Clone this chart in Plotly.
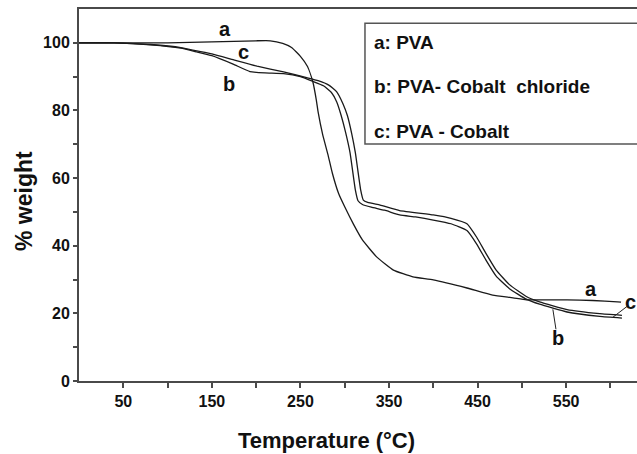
import plotly.graph_objects as go

# ---- data ----
temp_a = [0, 50, 100, 150, 200, 216, 230, 240, 250, 258, 264, 268, 270, 275, 281, 286, 293, 300,
          310, 320, 336, 355, 377, 400, 438, 467, 490, 505, 530, 551, 580, 608, 612]
wt_a = [100, 100, 100, 100.3, 100.6, 100.6, 99.8, 98.6, 96, 93, 88.5, 83, 79.5, 73, 67, 61.5, 55.5, 51.5,
        46.3, 41.7, 36.7, 32.8, 30.8, 29.9, 27.5, 25.4, 24.6, 24, 24, 24, 23.8, 23.4, 23.3]

temp_b = [0, 40, 81, 115, 133, 150, 174, 193, 210, 231, 250, 264, 276, 285, 291, 296, 301, 306,
          312, 315, 320, 330, 345, 362, 380, 400, 420, 438, 449, 460, 471, 486, 505, 520, 551, 588, 613]
wt_b = [100, 100, 99.4, 98.4, 97.3, 96.2, 93.7, 91.5, 91.1, 90.9, 90, 88.6, 87.3, 85.3, 82.5, 78.5, 73.5, 67.5,
        56.5, 53.3, 52.2, 51.4, 50.5, 49.1, 48.5, 47.6, 46.5, 44.5, 40.5, 35.5, 31, 27.3, 24.2, 22.7, 20.4, 19.1, 18.6]

temp_c = [0, 40, 81, 115, 133, 150, 174, 201, 231, 257, 270, 282, 291, 298, 303, 308, 312, 318,
          321, 326, 340, 362, 400, 420, 438, 449, 460, 471, 486, 505, 520, 551, 588, 613]
wt_c = [100, 100, 99.5, 98.6, 97.6, 96.7, 95, 93.1, 91.4, 89.7, 88.8, 87.5, 85.5, 82, 78.5, 73, 67.5, 56.5,
        53.5, 52.8, 52, 50.4, 49.1, 48.1, 46.5, 42.5, 37.5, 32.8, 28.5, 25, 23.4, 21.1, 19.9, 19.4]

x_ticks = [50, 100, 150, 200, 250, 300, 350, 400, 450, 500, 550, 600]
x_ticktext = ["50", "", "150", "", "250", "", "350", "", "450", "", "550", ""]
y_ticks = [0, 10, 20, 30, 40, 50, 60, 70, 80, 90, 100]
y_ticktext = ["0", "", "20", "", "40", "", "60", "", "80", "", "100"]

legend_lines = ["a: PVA", "b: PVA- Cobalt&nbsp; chloride", "c: PVA - Cobalt"]

FONT = "Liberation Sans, Arial, sans-serif"
AX = "#4a4a4a"

fig = go.Figure()
for xs, ys in [(temp_a, wt_a), (temp_b, wt_b), (temp_c, wt_c)]:
    fig.add_trace(go.Scatter(x=xs, y=ys, mode="lines",
                             line=dict(color="#1a1a1a", width=1.3, shape="spline", smoothing=0.4),
                             showlegend=False, hoverinfo="skip"))

fig.update_layout(
    width=637, height=454,
    margin=dict(l=79, r=0, t=9, b=73),
    paper_bgcolor="white", plot_bgcolor="white",
    xaxis=dict(range=[0, 630], tickmode="array", tickvals=x_ticks, ticktext=x_ticktext,
               showgrid=False, zeroline=False, showline=True, linecolor=AX, linewidth=2, mirror=True,
               ticks="outside", ticklen=5, tickwidth=1.5, tickcolor=AX,
               tickfont=dict(family=FONT, size=16, color="#111", weight="bold")),
    yaxis=dict(range=[0, 110], tickmode="array", tickvals=y_ticks, ticktext=y_ticktext,
               showgrid=False, zeroline=False, showline=True, linecolor=AX, linewidth=2,
               ticks="outside", ticklen=4, tickwidth=1.5, tickcolor=AX,
               tickfont=dict(family=FONT, size=16, color="#111", weight="bold")),
)

lab_font = dict(family=FONT, size=20, color="#111", weight="bold")
# curve labels
for txt, x, y in [("a", 165, 104.1), ("c", 185.4, 97.3), ("b", 169.6, 87.9),
                  ("a", 578, 27.2), ("b", 541, 12.7)]:
    fig.add_annotation(x=x, y=y, xref="x", yref="y", text=txt, showarrow=False, font=lab_font)
fig.add_annotation(x=1.0, y=23.4, xref="paper", yref="y", text="c", showarrow=False, font=lab_font,
                   xanchor="right", xshift=1)

# leader lines
fig.add_shape(type="line", xref="x", yref="y", x0=535, y0=21.2, x1=538.5, y1=15.3, line=dict(color="#222", width=1))
fig.add_shape(type="line", xref="x", yref="y", x0=603, y0=18.9, x1=620, y1=22.3, line=dict(color="#222", width=1))

# legend box
fig.add_shape(type="rect", xref="paper", yref="paper", x0=0.5125, y0=0.637, x1=1.02, y1=0.962,
              line=dict(color="#555", width=1.5), fillcolor="rgba(0,0,0,0)")
leg_font = dict(family=FONT, size=19, color="#111", weight="bold")
for txt, yp in zip(legend_lines, [0.909, 0.793, 0.672]):
    fig.add_annotation(x=0.525, y=yp, xref="paper", yref="paper", text=txt, showarrow=False,
                       xanchor="left", yanchor="middle", font=leg_font)

# axis titles
fig.add_annotation(x=(326 - 79) / 558, y=(381 - 440) / 372, xref="paper", yref="paper",
                   text="Temperature (°C)", showarrow=False, yanchor="middle", xanchor="center",
                   font=dict(family=FONT, size=22, color="#111", weight="bold"))
fig.add_annotation(x=(24 - 79) / 558, y=(381 - 201) / 372, xref="paper", yref="paper",
                   text="% weight", showarrow=False, textangle=-90, yanchor="middle", xanchor="center",
                   font=dict(family=FONT, size=23, color="#111", weight="bold"))

fig.write_html("out.html")
